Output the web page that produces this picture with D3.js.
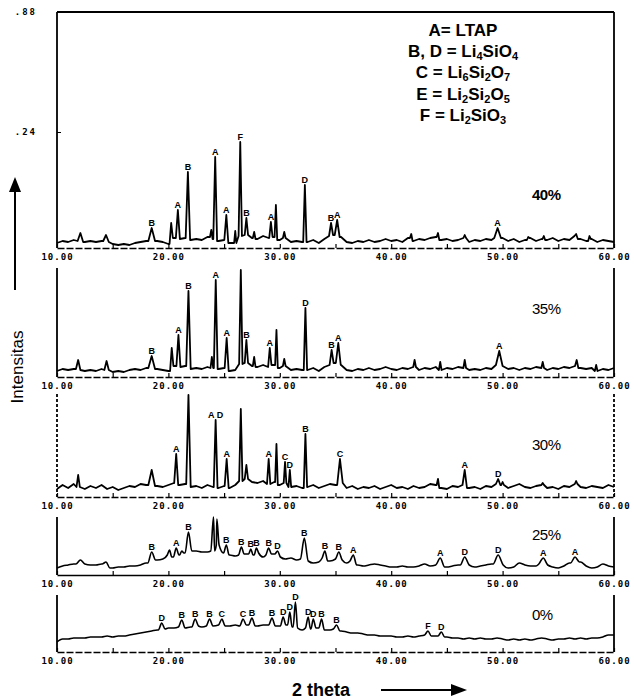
<!DOCTYPE html>
<html>
<head>
<meta charset="utf-8">
<script src="https://cdn.jsdelivr.net/npm/d3@7"></script>
<style>
body { margin: 0; background: #fff; }
svg text { font-family: Arial, "Liberation Sans", sans-serif; fill: #000; }
</style>
</head>
<body>
<svg id="chart" width="634" height="699"></svg>
<script>
// baselines: intensity read every 0.5 deg, from 10.00 to 60.00
var step = 0.5;

var base40 = [5,7,6,8,7,6,7,6,7,6, 4,3,4,3,5,6,7,8,7,6, 4,10,9,10,8,9,8,11,9,7, 8,5,5,12,13,10,9,12,10,11,
  8,10,6,7,6,6,8,5,9,12, 13,11,6,5,7,6,8,6,7,9, 7,8,6,10,7,9,8,10,11,8, 9,7,8,10,6,8,7,9,8,10,
  10,7,9,6,8,10,7,9,8,10, 7,9,8,12,9,7,9,6,8,7, 6];
var base35 = [6,8,7,8,7,6,7,6,8,7, 5,6,5,7,8,7,9,9,8,7, 6,11,10,11,8,9,8,10,9,8, 9,6,7,13,14,11,10,12,10,12,
  9,11,7,8,7,7,9,6,10,12, 14,12,7,6,8,7,9,7,8,10, 8,7,9,8,10,7,9,8,10,7, 9,8,10,9,7,8,7,9,8,12,
  11,8,9,7,9,8,10,9,7,9, 8,10,9,11,9,8,9,6,8,7, 9];
var base30 = [8,12,9,13,10,8,11,9,12,8, 10,7,9,11,10,13,12,14,11,10, 12,14,12,13,10,11,9,12,10,9, 11,9,12,16,18,15,14,16,13,15,
  12,14,10,11,9,10,12,9,11,13, 12,14,9,11,8,10,9,11,8,10, 12,9,10,8,11,9,10,13,12,9, 8,11,10,12,9,10,8,11,10,13,
  12,9,11,13,10,9,11,12,9,10, 8,11,10,13,10,9,11,10,9,12, 10];
var base25 = [7,9,10,11,13,11,10,10,11,12, 7,8,8,9,9,10,12,14,15,16, 20,18,20,22,24,24,23,23,24,30, 22,20,19,20,21,20,22,18,20,21,
  18,16,17,15,16,14,12,13,17,14, 16,15,12,14,10,9,10,11,10,9, 8,8,9,8,8,9,11,9,10,12, 8,9,10,12,10,8,9,10,11,13,
  10,7,8,12,10,9,9,11,10,8, 7,9,12,11,13,9,7,8,11,9, 8];
var base0 = [10,13,13,14,14,14,15,15,15,16, 15,16,16,17,18,19,20,21,22,23, 24,24,25,24,25,26,25,26,26,27, 26,26,27,26,27,27,26,27,27,26,
  26,27,25,24,22,24,23,24,22,22, 23,21,20,19,19,18,17,17,16,16, 16,15,15,16,15,16,17,16,16,17, 15,14,14,13,14,13,14,13,13,14,
  13,12,13,12,13,12,13,14,13,12, 13,13,14,13,14,13,14,14,15,17, 17];

// peaks: [2theta, apex intensity, half width (deg), phase label]
var peaks40 = [[12.1,15,.25,''],[14.4,13,.25,''],[18.5,20,.3,'B'],[20.25,25,.15,''],[20.85,38,.18,'A'],
  [21.75,76,.2,'B'],[23.85,18,.12,''],[24.2,91,.17,'A'],[25.2,33,.18,'A'],[26.0,17,.1,''],
  [26.45,106,.15,'F'],[27.0,30,.15,'B'],[27.7,16,.12,''],[29.2,26,.15,'A'],[29.65,43,.12,''],
  [30.4,16,.12,''],[32.25,63,.15,'D'],[34.6,25,.18,'B'],[35.15,28,.22,'A'],[41.8,14,.12,''],
  [44.2,15,.12,''],[46.6,13,.12,''],[49.55,20,.3,'A'],[52.3,11,.12,''],[53.7,12,.12,''],
  [56.6,14,.15,''],[57.8,12,.12,'']];
var peaks35 = [[11.9,17,.2,''],[14.45,16,.2,''],[18.5,21,.3,'B'],[20.3,29,.15,''],[20.9,42,.18,'A'],
  [21.8,86,.2,'B'],[23.9,20,.12,''],[24.25,97,.17,'A'],[25.23,39,.18,'A'],[26.5,107,.15,''],
  [27.0,37,.15,'B'],[27.7,20,.12,''],[29.1,29,.15,'A'],[29.7,47,.12,''],[30.4,18,.12,''],
  [32.3,69,.15,'D'],[34.65,27,.18,'B'],[35.25,34,.22,'A'],[42.1,17,.12,''],[44.4,15,.12,''],
  [46.6,17,.12,''],[49.7,26,.3,'A'],[53.6,15,.12,''],[56.65,17,.15,''],[58.4,12,.12,'']];
var peaks30 = [[11.9,22,.15,''],[18.5,27,.3,''],[20.7,43,.18,'A'],[21.8,102,.2,''],[24.24,77,.17,'A D'],
  [25.23,38,.18,'A'],[26.5,88,.15,''],[27.0,32,.15,''],[29.0,38,.15,'A'],[29.7,53,.12,''],
  [30.47,35,.12,'C'],[30.9,27,.12,'D'],[32.3,63,.15,'B'],[35.4,38,.25,'C'],[44.2,18,.12,''],
  [46.6,27,.2,'A'],[49.6,18,.2,'D'],[50.0,15,.12,''],[53.6,14,.12,''],[56.6,16,.12,'']];
var peaks25 = [[12.1,15,.4,''],[14.4,13,.35,''],[18.5,23,.35,'B'],[20.1,25,.2,''],[20.7,27,.25,'A'],
  [21.2,24,.2,''],[21.8,43,.3,'B'],[24.05,58,.25,''],[24.35,56,.2,''],[25.2,30,.25,'B'],
  [26.55,28,.25,'B'],[27.4,26,.2,'B'],[27.9,27,.2,'B'],[29.0,27,.25,'B'],[29.8,24,.25,'D'],
  [32.2,37,.35,'B'],[34.05,24,.25,'B'],[35.3,23,.3,'B'],[36.6,20,.3,'A'],[44.4,17,.4,'A'],
  [46.6,18,.4,'D'],[49.6,20,.45,'D'],[53.65,17,.4,'A'],[56.5,18,.4,'A']];
var peaks0 = [[19.4,29,.3,'D'],[21.2,32,.3,'B'],[22.4,33,.3,'B'],[23.7,33,.3,'B'],[24.8,33,.3,'C'],
  [26.7,33,.3,'C'],[27.5,34,.3,'B'],[29.3,34,.3,'B'],[30.3,35,.25,'D'],[30.9,40,.2,'D'],
  [31.4,50,.2,'D'],[32.55,35,.25,'D'],[33.0,33,.25,'D'],[33.75,33,.25,'B'],[35.1,27,.3,'B'],
  [43.3,21,.3,'F'],[44.5,20,.3,'D']];

var samples = ['40%', '35%', '30%', '25%', '0%'];
var xTickVals = [10,15,20,25,30,35,40,45,50,55,60];
var xTickLabels = {10:'10.00', 20:'20.00', 30:'30.00', 40:'40.00', 50:'50.00', 60:'60.00'};
var yTicks40 = [116, 236];
var yTickLabels40 = ['.24', '.88'];
var legendLines = [
  [['A= LTAP',0]],
  [['B, D = Li',0],['4',1],['SiO',0],['4',1]],
  [['C = Li',0],['6',1],['Si',0],['2',1],['O',0],['7',1]],
  [['E = Li',0],['2',1],['Si',0],['2',1],['O',0],['5',1]],
  [['F = Li',0],['2',1],['SiO',0],['3',1]]
];

var svg = d3.select('#chart');
var x = d3.scaleLinear().domain([10, 60]).range([57, 614]);

var panels = [
  {base: base40, peaks: peaks40, top: 12, bottom: 248, labelY: 200, box: true, bold: true},
  {base: base35, peaks: peaks35, top: 268, bottom: 377, labelY: 314},
  {base: base30, peaks: peaks30, top: 394, bottom: 497, labelY: 450, dotted: true},
  {base: base25, peaks: peaks25, top: 517, bottom: 575, labelY: 540, smooth: true, solidAxis: true},
  {base: base0, peaks: peaks0, top: 595, bottom: 652, labelY: 620, smooth: true}
];

function buildTrace(base, peaks) {
  var pts = [];
  function baseAt(t) {
    var i = Math.round((t - 10) / step);
    return base[Math.max(0, Math.min(base.length - 1, i))];
  }
  base.forEach(function (b, i) {
    var t = 10 + i * step;
    var hit = peaks.some(function (p) { return Math.abs(t - p[0]) <= p[2] + 1e-6; });
    if (!hit) pts.push([t, b]);
  });
  peaks.forEach(function (p) {
    pts.push([p[0] - p[2], baseAt(p[0] - p[2])]);
    pts.push([p[0], p[1]]);
    pts.push([p[0] + p[2], baseAt(p[0] + p[2])]);
  });
  pts.sort(function (a, b) { return a[0] - b[0]; });
  return pts.filter(function (d, i) { return i === 0 || d[0] - pts[i - 1][0] > 1e-6; });
}

panels.forEach(function (pn, k) {
  var y = d3.scaleLinear().domain([0, pn.bottom - pn.top]).range([pn.bottom, pn.top]);
  var g = svg.append('g');
  var sideDash = pn.dotted ? '3,2' : null;

  // side frame
  g.append('line').attr('x1', 57).attr('x2', 57).attr('y1', pn.top).attr('y2', pn.bottom)
    .attr('stroke', '#000').attr('stroke-width', 1.8).attr('stroke-dasharray', sideDash);
  g.append('line').attr('x1', 614).attr('x2', 614).attr('y1', pn.top).attr('y2', pn.bottom)
    .attr('stroke', '#000').attr('stroke-width', 1.8).attr('stroke-dasharray', sideDash);
  if (pn.box) {
    g.append('line').attr('x1', 57).attr('x2', 614).attr('y1', pn.top).attr('y2', pn.top)
      .attr('stroke', '#000').attr('stroke-width', 1.8);
    var ya = g.append('g').attr('transform', 'translate(57,0)')
      .call(d3.axisLeft(y).tickValues(yTicks40).tickSizeInner(-4).tickSizeOuter(0).tickPadding(20)
        .tickFormat(function (d, i) { return yTickLabels40[i]; }));
    ya.select('.domain').remove();
    ya.selectAll('text').style('font-family', '"DejaVu Sans Mono", monospace')
      .style('font-weight', 'bold').style('font-size', '9px').style('letter-spacing', '2px')
      .attr('fill', '#000');
  }

  var xa = g.append('g').attr('transform', 'translate(0,' + pn.bottom + ')')
    .call(d3.axisBottom(x).tickValues(xTickVals).tickSizeInner(-4).tickSizeOuter(0).tickPadding(6)
      .tickFormat(function (d) { return xTickLabels[d] || ''; }));
  xa.select('.domain').attr('stroke-width', 1.6).attr('stroke-dasharray', pn.solidAxis ? null : '7,2');
  xa.selectAll('.tick line').attr('stroke-width', 1.2);
  xa.selectAll('text').style('font-family', '"DejaVu Sans Mono", monospace')
    .style('font-weight', 'bold').style('font-size', '9px').style('letter-spacing', '1px')
    .attr('fill', '#000');

  var line = d3.line()
    .x(function (d) { return x(d[0]); })
    .y(function (d) { return y(d[1]); })
    .curve(pn.smooth ? d3.curveMonotoneX : d3.curveLinear);

  g.append('path').datum(buildTrace(pn.base, pn.peaks))
    .attr('d', line).attr('fill', 'none').attr('stroke', '#000')
    .attr('stroke-width', pn.smooth ? 1.6 : 1.8).attr('stroke-linejoin', 'round');

  g.selectAll('text.mk').data(pn.peaks.filter(function (p) { return p[3]; }))
    .enter().append('text').attr('class', 'mk')
    .attr('x', function (p) { return x(p[0]); })
    .attr('y', function (p) { return y(p[1]) - 2; })
    .attr('text-anchor', 'middle')
    .style('font-size', '9px').style('font-weight', 'bold')
    .text(function (p) { return p[3]; });

  g.append('text').attr('x', 532).attr('y', pn.labelY)
    .style('font-size', '15px').style('font-weight', pn.bold ? 'bold' : 'normal')
    .style('letter-spacing', '-0.5px')
    .text(samples[k]);
});

// legend
legendLines.forEach(function (parts, i) {
  var t = svg.append('text').attr('x', 463).attr('y', 36 + i * 21.2)
    .attr('text-anchor', 'middle').style('font-size', '17px').style('font-weight', 'bold');
  var prevSub = 0;
  parts.forEach(function (p) {
    var dy = p[1] - prevSub;
    t.append('tspan').attr('dy', dy * 3).style('font-size', p[1] ? '11px' : '17px').text(p[0]);
    prevSub = p[1];
  });
});

// axis titles with arrows
svg.append('text').attr('transform', 'translate(23,367) rotate(-90)')
  .attr('text-anchor', 'middle').style('font-size', '17px').text('Intensitas');
svg.append('line').attr('x1', 15).attr('x2', 15).attr('y1', 290).attr('y2', 188)
  .attr('stroke', '#000').attr('stroke-width', 2);
svg.append('path').attr('d', 'M15,177 L9,192 L21,192 Z').attr('fill', '#000');

svg.append('text').attr('x', 292).attr('y', 696)
  .style('font-size', '18px').style('font-weight', 'bold').text('2 theta');
svg.append('line').attr('x1', 381).attr('x2', 455).attr('y1', 690).attr('y2', 690)
  .attr('stroke', '#000').attr('stroke-width', 2);
svg.append('path').attr('d', 'M467,690 L451,684 L451,696 Z').attr('fill', '#000');
</script>
</body>
</html>
